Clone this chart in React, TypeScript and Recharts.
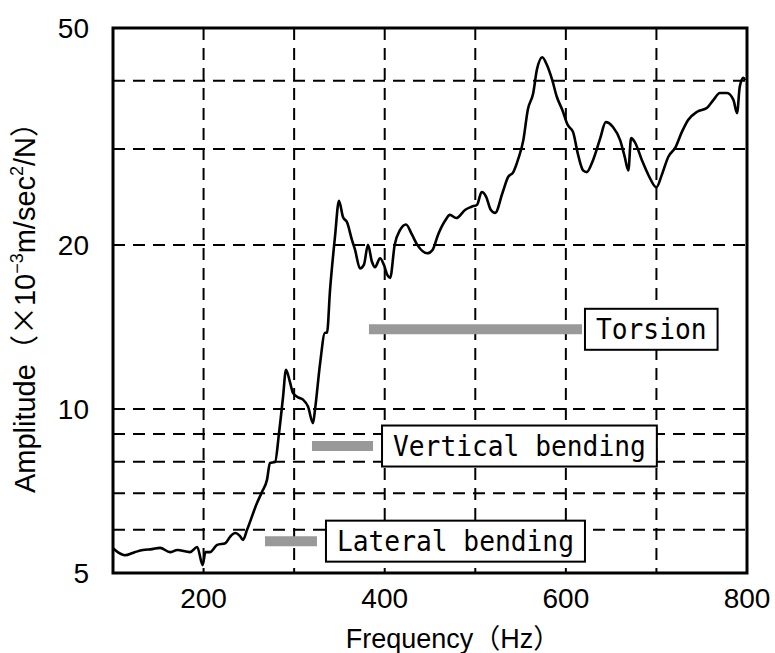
import React from 'react';
import {
  LineChart,
  Line,
  XAxis,
  YAxis,
  CartesianGrid,
  ReferenceLine,
  ReferenceArea,
} from 'recharts';

// frequency response (Hz / x10^-3 m/sec^2/N)
const freq = [
  100, 106, 113, 124, 133, 143, 152, 163, 171, 185, 193, 199, 202, 207, 215, 224, 229, 235, 240, 243.5,
  248, 259, 264.5, 270, 273.3, 278.9, 283.3, 287.7, 291, 295.4, 298.7, 304.3, 309.8, 315.3, 320.8, 323,
  328.6, 334.1, 336.3, 339.6, 345.1, 349.5, 353.9, 358.4, 363.9, 367.2, 372.7, 377.1, 381.5, 386, 389.3,
  394.8, 399, 403, 406, 411, 417, 423.5, 430, 436, 447, 453, 459, 467, 472, 479, 489, 496, 502, 507, 512,
  517, 522, 530, 536, 542, 547, 553, 558, 564, 568, 574, 579, 585, 590, 596, 602, 608, 613, 619, 623,
  630, 638, 644, 652, 660, 665, 669, 672, 676, 684, 691, 700, 706, 713, 721, 728, 735, 745, 756, 763,
  770, 778, 785, 789, 792, 796, 798,
];
const amplitude = [
  5.55, 5.45, 5.39, 5.46, 5.51, 5.53, 5.56, 5.46, 5.51, 5.46, 5.58, 5.17, 5.46, 5.46, 5.63, 5.67, 5.82, 5.92, 5.85, 5.75,
  6.0, 6.72, 7.04, 7.41, 7.96, 7.99, 9.03, 10.5, 11.8, 11.2, 10.7, 10.5, 10.4, 10.1, 9.42, 9.96,
  12.1, 13.8, 13.8, 16.5, 20.7, 24.1, 22.5, 22.0, 20.4, 19.6, 18.1, 18.4, 20.0, 18.6, 18.2,
  18.9, 18.4, 17.6, 17.4, 20.0, 21.3, 21.8, 20.9, 20.0, 19.3, 19.6, 20.9, 22.2, 22.7, 22.4, 23.2, 23.5, 23.7, 25.0, 24.5,
  23.2, 22.9, 24.9, 26.6, 27.2, 28.6, 31.1, 35.4, 38.0, 41.9, 44.2, 42.8, 40.1, 37.4, 35.4, 33.2, 32.2, 29.5, 27.4, 27.2,
  28.6, 31.4, 33.6, 32.9, 31.1, 29.0, 27.4, 31.4, 30.9, 28.6, 26.9, 25.5, 26.9, 29.0, 30.2, 32.2, 33.9, 35.1, 35.7, 36.9,
  38.0, 38.0, 36.9, 34.9, 39.0, 40.5, 40.1,
];

// vibration mode bands
const modeNames = ['Torsion', 'Vertical bending', 'Lateral bending'];
const modeStart = [382.6, 319.7, 267.8];
const modeEnd = [617.8, 387.1, 325.2];
const modeLevel = [14.0, 8.55, 5.72];

const xTicks = [100, 200, 300, 400, 500, 600, 700, 800];
const xLabelled = [200, 400, 600, 800];
const yTicks = [5, 6, 7, 8, 9, 10, 20, 30, 40, 50];
const yLabelled = [5, 10, 20, 50];

const data = freq.map((f, i) => ({ freq: f, amp: amplitude[i] }));

const sans = '"Liberation Sans", Arial, "Noto Sans CJK JP", sans-serif';

const ModeTag: React.FC<any> = ({ viewBox, name, gap }) => {
  if (!viewBox) return null;
  const charW = 15.8;
  const textW = name.length * charW;
  const bx = viewBox.x + viewBox.width + gap;
  const cy = viewBox.y;
  return (
    <g>
      <rect x={bx} y={cy - 20.5} width={textW + 22} height={41} fill="#fff" stroke="#000" strokeWidth={2} />
      <text
        x={bx + 11}
        y={cy + 10}
        fontSize={28}
        fontFamily='"DejaVu Sans Mono", monospace'
        textLength={textW}
        lengthAdjust="spacingAndGlyphs"
        fill="#000"
      >
        {name}
      </text>
    </g>
  );
};

const YTitle: React.FC<any> = ({ viewBox }) => {
  const x = 35;
  const y = viewBox.y + viewBox.height / 2;
  return (
    <text x={x} y={y} transform={`rotate(-90 ${x} ${y})`} textAnchor="middle" fontSize={29} fontFamily={sans} fill="#000">
      Amplitude（<tspan fontFamily='"Noto Sans CJK JP"'>×</tspan>10
      <tspan dy={-12} fontSize={18}>−3</tspan>
      <tspan dy={12}>m/sec</tspan>
      <tspan dy={-12} fontSize={18}>2</tspan>
      <tspan dy={12}>/N）</tspan>
    </text>
  );
};

const XTitle: React.FC<any> = ({ viewBox }) => (
  <text x={viewBox.x + viewBox.width / 2 + 23} y={648} textAnchor="middle" fontSize={27} fontFamily={sans} fill="#000">
    Frequency（Hz）
  </text>
);

export default function App() {
  return (
    <div style={{ position: 'absolute', left: 0, top: 0, background: '#fff' }}>
      <LineChart width={775} height={653} data={data} margin={{ top: 28, right: 28, left: 43, bottom: 30 }}>
        <CartesianGrid stroke="#000" strokeWidth={2} strokeDasharray="12 8" />
        <XAxis
          dataKey="freq"
          type="number"
          domain={[100, 800]}
          ticks={xTicks}
          tickFormatter={(v: number) => (xLabelled.includes(v) ? String(v) : '')}
          axisLine={false}
          tickLine={false}
          tickSize={0}
          tickMargin={15}
          height={50}
          tick={{ fontSize: 28, fill: '#000', fontFamily: sans }}
          label={<XTitle />}
          allowDataOverflow
        />
        <YAxis
          type="number"
          scale="log"
          domain={[5, 50]}
          ticks={yTicks}
          tickFormatter={(v: number) => (yLabelled.includes(v) ? String(v) : '')}
          axisLine={false}
          tickLine={false}
          tickSize={0}
          tickMargin={24}
          width={70}
          tick={{ fontSize: 28, fill: '#000', fontFamily: sans }}
          label={<YTitle />}
          allowDataOverflow
        />
        <Line
          type="monotone"
          dataKey="amp"
          stroke="#000"
          strokeWidth={2.6}
          dot={false}
          isAnimationActive={false}
        />
        {modeNames.map((name, i) => (
          <ReferenceLine
            key={name}
            segment={[
              { x: modeStart[i], y: modeLevel[i] },
              { x: modeEnd[i], y: modeLevel[i] },
            ]}
            stroke="#999"
            strokeWidth={10}
            ifOverflow="visible"
            label={<ModeTag name={name} gap={i === 0 ? 3 : 9} />}
          />
        ))}
        <ReferenceArea x1={100} x2={800} y1={5} y2={50} fill="none" stroke="#000" strokeWidth={3} ifOverflow="visible" />
      </LineChart>
    </div>
  );
}
